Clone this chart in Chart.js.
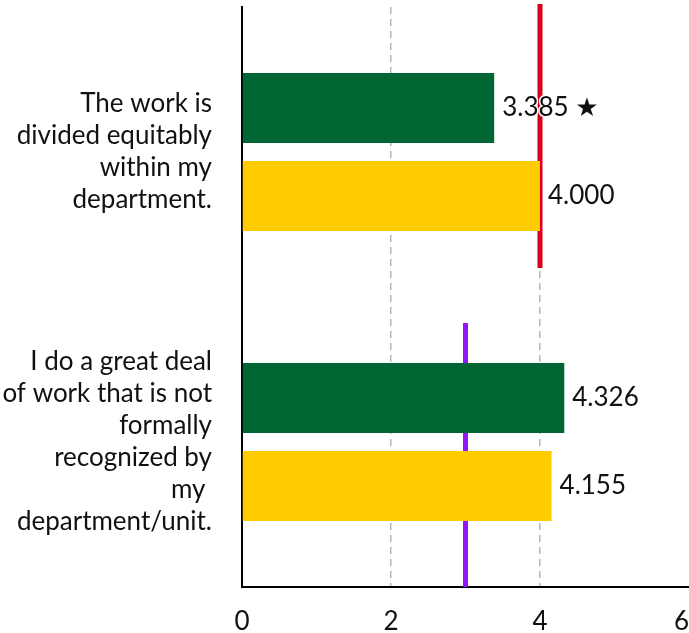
<!DOCTYPE html>
<html>
<head>
<meta charset="utf-8">
<script src="https://cdn.jsdelivr.net/npm/chart.js@4.4.0/dist/chart.umd.min.js"></script>
<style>
    html, body { margin: 0; padding: 0; background: #fff; overflow: hidden; }
    #wrap { width: 689px; height: 633px; position: relative; }
</style>
</head>
<body>
<div id="wrap"><canvas id="chart"></canvas></div>
<script>
// ------------------ DATA ------------------
const questions = [
    ['The work is', 'divided equitably', 'within my', 'department.'],
    ['I do a great deal', 'of work that is not', 'formally', 'recognized by', 'my ', 'department/unit.']
];
const greenScores = [3.385, 4.326];
const yellowScores = [4.000, 4.155];
const greenMarks = ['\u2605', ''];
const benchmarkValues = [4, 3];
const xTicks = [0, 2, 4, 6];

const GREEN = '#006633';
const YELLOW = '#ffcc00';
const TEXT = '#111';
const FONT = 'Lato, "DejaVu Sans", sans-serif';

// benchmark line colour and vertical reach (in category units around each row)
const benchmarkStyles = [
    { color: '#d6001c', from: -0.51, to: 0.4 },
    { color: '#9415fb', from: -0.41, to: 0.5 }
];

// ------------------ PLUGINS ------------------
const benchmarkLines = {
    id: 'benchmarkLines',
    beforeDatasetsDraw(chart) {
        const { ctx, scales: { x, y } } = chart;
        const band = y.getPixelForValue(1) - y.getPixelForValue(0);
        benchmarkValues.forEach((v, i) => {
            const px = x.getPixelForValue(v);
            const cy = y.getPixelForValue(i);
            const s = benchmarkStyles[i];
            ctx.save();
            ctx.strokeStyle = s.color;
            ctx.lineWidth = 5;
            ctx.beginPath();
            ctx.moveTo(px, cy + s.from * band);
            ctx.lineTo(px, cy + s.to * band);
            ctx.stroke();
            ctx.restore();
        });
    }
};

const valueLabels = {
    id: 'valueLabels',
    afterDatasetsDraw(chart) {
        const { ctx } = chart;
        ctx.save();
        ctx.font = '26px ' + FONT;
        ctx.textAlign = 'left';
        ctx.textBaseline = 'middle';
        ctx.lineJoin = 'round';
        chart.data.datasets.forEach((ds, di) => {
            chart.getDatasetMeta(di).data.forEach((bar, i) => {
                let text = ds.data[i].toFixed(3);
                if (di === 0 && greenMarks[i]) text += ' ' + greenMarks[i];
                ctx.strokeStyle = '#fff';
                ctx.lineWidth = 3;
                ctx.strokeText(text, bar.x + 8, bar.y);
                ctx.fillStyle = TEXT;
                ctx.fillText(text, bar.x + 8, bar.y);
            });
        });
        ctx.restore();
    }
};

// ------------------ CHART ------------------
new Chart(document.getElementById('chart'), {
    type: 'bar',
    data: {
        labels: questions,
        datasets: [
            { data: greenScores, backgroundColor: GREEN },
            { data: yellowScores, backgroundColor: YELLOW }
        ]
    },
    options: {
        indexAxis: 'y',
        responsive: true,
        maintainAspectRatio: false,
        animation: false,
        categoryPercentage: 0.607,
        barPercentage: 0.795,
        layout: { padding: { top: 7, right: 0, bottom: 0, left: 0 } },
        plugins: {
            legend: { display: false },
            tooltip: { enabled: false }
        },
        scales: {
            x: {
                min: xTicks[0],
                max: xTicks[xTicks.length - 1],
                afterBuildTicks: (scale) => { scale.ticks = xTicks.map(v => ({ value: v })); },
                afterFit: (scale) => { scale.height = 46; scale.paddingLeft = 0; scale.paddingRight = 0; },
                grid: {
                    drawTicks: false,
                    lineWidth: 1.5,
                    color: (c) => (c.tick && (c.tick.value === 0 || c.tick.value === 6)) ? 'rgba(0,0,0,0)' : '#b5b5b5'
                },
                border: { color: '#000', width: 2, dash: [7, 5] },
                ticks: {
                    padding: 19,
                    color: TEXT,
                    font: { family: FONT, size: 26 },
                    maxRotation: 0,
                    callback: (v, i, ticks) => i === ticks.length - 1 ? v + '\u2007' : String(v)
                }
            },
            y: {
                afterFit: (scale) => { scale.width = 242; scale.paddingTop = 0; scale.paddingBottom = 0; },
                grid: { display: false, drawTicks: false },
                border: { color: '#000', width: 2 },
                ticks: {
                    padding: 30,
                    color: TEXT,
                    font: { family: FONT, size: 26, lineHeight: 1.23 }
                }
            }
        }
    },
    plugins: [benchmarkLines, valueLabels]
});
</script>
</body>
</html>
